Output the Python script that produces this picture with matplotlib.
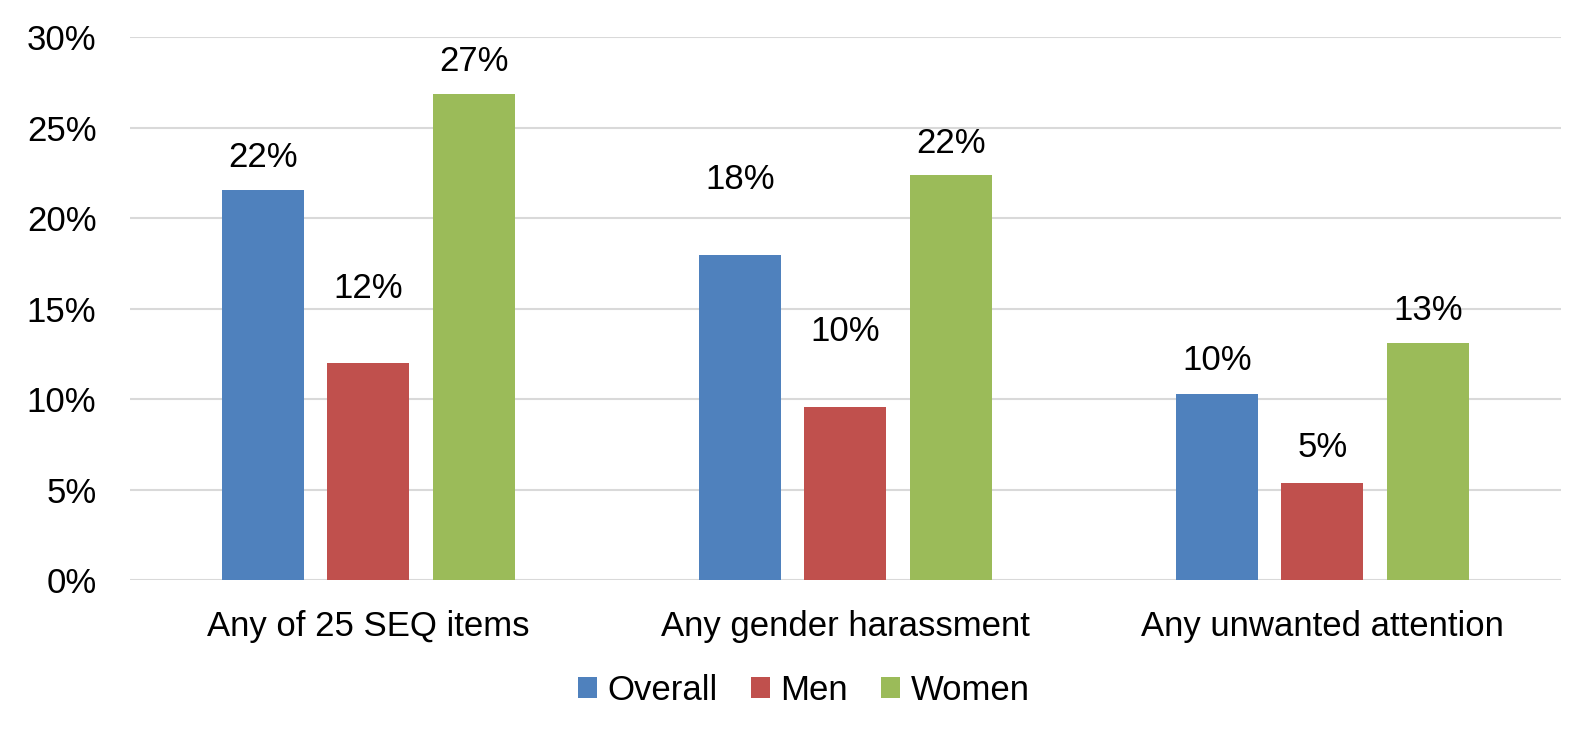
import matplotlib.pyplot as plt
import numpy as np

categories = ["Any of 25 SEQ items", "Any gender harassment", "Any unwanted attention"]
series = ["Overall", "Men", "Women"]
overall = [21.6, 18.0, 10.3]
men = [12.0, 9.6, 5.4]
women = [26.9, 22.4, 13.1]
label_overall = ["22%", "18%", "10%"]
label_men = ["12%", "10%", "5%"]
label_women = ["27%", "22%", "13%"]
yticks = [0, 5, 10, 15, 20, 25, 30]

colors = ["#4F81BD", "#C0504D", "#9BBB59"]
# label offsets above bar tops (points); some labels in the source float higher
offsets = [[23, 54, 23], [54, 54, 23], [24, 25, 24]]

plt.rcParams["font.family"] = ["Liberation Sans", "DejaVu Sans"]
fs = 25

fig = plt.figure(figsize=(15.91, 7.35), dpi=100)
ax = fig.add_axes([0.0816, 0.2103, 0.8994, 0.7387])

x = np.arange(len(categories))
width = 0.172
step = 0.221
values = [overall, men, women]
labels = [label_overall, label_men, label_women]

for i in range(3):
    pos = x + (i - 1) * step
    ax.bar(pos, values[i], width, color=colors[i], label=series[i], zorder=3)
    for j in range(3):
        ax.annotate(labels[i][j], (pos[j], values[i][j]), xytext=(0, offsets[j][i]),
                    textcoords="offset points", ha="center", va="center", fontsize=fs)

ax.set_xlim(-0.5, 2.5)
ax.set_ylim(0, 30)
ax.set_yticks(yticks)
ax.set_yticklabels([str(t) + "%" for t in yticks])
ax.set_xticks(x)
ax.set_xticklabels(categories)
ax.tick_params(axis="both", length=0, labelsize=fs)
ax.tick_params(axis="y", pad=24)
ax.tick_params(axis="x", pad=21)
ax.grid(axis="y", color="#D9D9D9", linewidth=1.5, zorder=0)
for s in ax.spines.values():
    s.set_visible(False)

fig.legend(loc="center", bbox_to_anchor=(804 / 1591, 1 - 690 / 735), ncol=3, frameon=False,
           fontsize=fs, handlelength=0.55, handleheight=0.55, handletextpad=0.3, columnspacing=0.95)

fig.savefig("out.png", dpi=100)
